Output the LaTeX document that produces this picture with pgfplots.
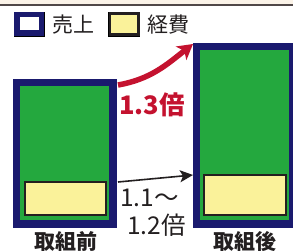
\documentclass[border=0pt]{standalone}
\usepackage{pgfplots}
\pgfplotsset{compat=1.18}
\usepackage{fontspec}
\setmainfont{Noto Sans CJK JP}
\usetikzlibrary{arrows.meta}
\definecolor{navyb}{HTML}{1A1A6E}
\definecolor{greenb}{HTML}{24A83E}
\definecolor{yellowb}{HTML}{FAF29A}
\definecolor{redb}{HTML}{C4122F}
\definecolor{topbg}{HTML}{FBF3E8}
\definecolor{topline}{HTML}{504848}
\definecolor{textblack}{HTML}{231F20}
\begin{document}
\begin{tikzpicture}
\useasboundingbox (0,0) rectangle (293pt,251pt);
% axis 1: sales (y = 224 - pixel row)
\begin{axis}[width=293pt, height=251pt, scale only axis,
  xmin=0, xmax=293, ymin=-27, ymax=224, axis lines=none]
\addplot[ybar, bar shift=0pt, bar width=96.5, draw=navyb, line width=7.5pt, fill=greenb]
  coordinates {(65,141.25) (245,177.25)};
\fill[topbg] (axis cs:0,224) rectangle (axis cs:293,220);
\draw[topline, line width=2pt] (axis cs:0,219) -- (axis cs:293,219);
\draw[redb, line width=5.5pt, -{Stealth[length=15pt, width=17pt, inset=4pt]}]
  (axis cs:118,139) to[out=10, in=218] (axis cs:193,180);
\node[anchor=base west, inner sep=0pt, text=redb, font=\fontsize{25.5}{25.5}\selectfont\bfseries]
  at (axis cs:119,109) {1.3倍};
\draw[textblack, line width=1.6pt, -{Stealth[length=13pt, width=12pt, inset=3pt]}]
  (axis cs:118,42) -- (axis cs:193,49);
\node[anchor=base west, inner sep=0pt, text=textblack, font=\fontsize{24.5}{24.5}\selectfont]
  at (axis cs:120,17) {1.1～};
\node[anchor=base west, inner sep=0pt, text=textblack, font=\fontsize{24.5}{24.5}\selectfont]
  at (axis cs:127,-10.5) {1.2倍};
\node[anchor=base, inner sep=0pt, text=textblack, font=\fontsize{21}{21}\selectfont\bfseries]
  at (axis cs:66,-25.4) {取組前};
\node[anchor=base, inner sep=0pt, text=textblack, font=\fontsize{21}{21}\selectfont\bfseries]
  at (axis cs:245,-25.4) {取組後};
\end{axis}
% axis 2: costs (y = 215 - pixel row)
\begin{axis}[width=293pt, height=251pt, scale only axis,
  xmin=0, xmax=293, ymin=-36, ymax=215, axis lines=none,
  legend columns=2,
  legend style={at={(axis cs:14,191)}, anchor=west, draw=none, fill=none,
    inner sep=0pt, outer sep=0pt, text=textblack,
    font=\fontsize{21}{21}\selectfont,
    /tikz/every odd column/.append style={column sep=6pt},
    /tikz/every even column/.append style={column sep=12pt}},
  legend cell align=left]
\addlegendimage{legend image code/.code={
  \path (0pt,-12pt) rectangle (30pt,12pt);
  \draw[draw=navyb, line width=5.5pt, fill=white] (2.75pt,-9.25pt) rectangle (27.25pt,9.25pt);}}
\addlegendentry{売上}
\addlegendimage{legend image code/.code={
  \path (0pt,-12pt) rectangle (31pt,12pt);
  \draw[draw=textblack, line width=2.6pt, fill=yellowb] (1.3pt,-10.7pt) rectangle (29.7pt,10.7pt);}}
\addlegendentry{経費}
\addplot[forget plot, ybar, bar shift=0pt, bar width=81.5, draw=textblack, line width=2pt, fill=yellowb]
  coordinates {(65.5,33) (245,40)};
\end{axis}
\end{tikzpicture}
\end{document}
